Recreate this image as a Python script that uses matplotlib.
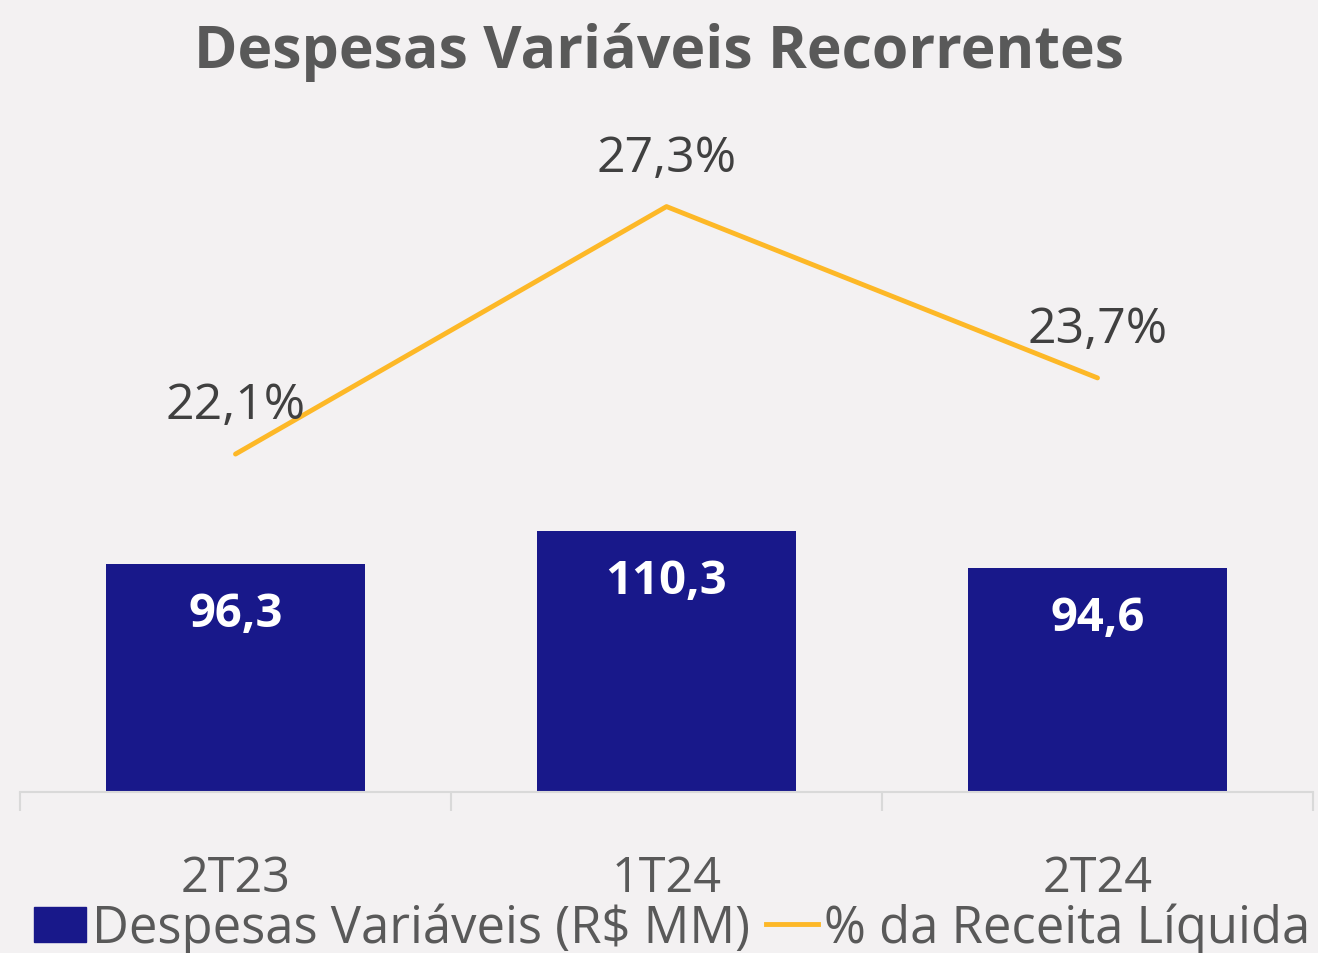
import matplotlib
matplotlib.use("Agg")
import matplotlib.pyplot as plt
from matplotlib.patches import Patch
from matplotlib.lines import Line2D

plt.rcParams['font.family'] = ['Open Sans', 'DejaVu Sans']

# data
categories = ["2T23", "1T24", "2T24"]
despesas = [96.3, 110.3, 94.6]
pct_receita = [22.1, 27.3, 23.7]

bg = "#F3F1F2"
bar_color = "#18188A"
line_color = "#FDB827"
text_gray = "#595959"
label_gray = "#404040"

fig = plt.figure(figsize=(13.18, 9.54), dpi=100, facecolor=bg)
ax = fig.add_axes([20 / 1318, 161 / 954, 1293 / 1318, 693 / 954])
ax.set_facecolor(bg)
ax2 = ax.twinx()

x = list(range(len(categories)))
ax.bar(x, despesas, width=0.6, color=bar_color, zorder=2)
ax.set_xlim(-0.5, 2.5)
ax.set_ylim(0, 292.4)

# value labels inside the bars
for xi, v in zip(x, despesas):
    ax.annotate(f"{v:.1f}".replace(".", ","), (xi, v), xytext=(0, -36),
                textcoords="offset points", ha="center", va="center",
                color="white", fontsize=34, fontweight="bold")

ax2.plot(x, pct_receita, color=line_color, lw=3.5, solid_capstyle="round", zorder=3)
ax2.set_ylim(15, 29.56)
for xi, v in zip(x, pct_receita):
    ax2.annotate(f"{v:.1f}%".replace(".", ","), (xi, v), xytext=(0, 35),
                 textcoords="offset points", ha="center", va="center",
                 color=label_gray, fontsize=36)

for a in (ax, ax2):
    for s in ("top", "left", "right"):
        a.spines[s].set_visible(False)
    a.set_yticks([])
ax2.spines["bottom"].set_visible(False)
ax.spines["bottom"].set_color("#D9D9D9")
ax.spines["bottom"].set_linewidth(1.5)

ax.set_xticks(x)
ax.set_xticklabels(categories, fontsize=35, color=text_gray)
ax.set_xticks([-0.5, 0.5, 1.5, 2.5], minor=True)
ax.tick_params(axis="x", which="major", length=0, pad=44)
ax.tick_params(axis="x", which="minor", length=14, width=1.5, color="#D9D9D9")

fig.suptitle("Despesas Variáveis Recorrentes", fontsize=42.5, fontweight="bold",
             color=text_gray, y=0.945, va="center")

handles = [Patch(color=bar_color), Line2D([], [], color=line_color, lw=3.5)]
labels = ["Despesas Variáveis (R$ MM)", "% da Receita Líquida"]
fig.legend(handles, labels, loc="center", bbox_to_anchor=(0.51, 0.026), ncol=2,
           frameon=False, fontsize=36.5, labelcolor=text_gray, handlelength=1.03,
           handleheight=0.69, handletextpad=0.12, columnspacing=0.3, borderpad=0)

fig.savefig("out.png", dpi=100, facecolor=bg)
